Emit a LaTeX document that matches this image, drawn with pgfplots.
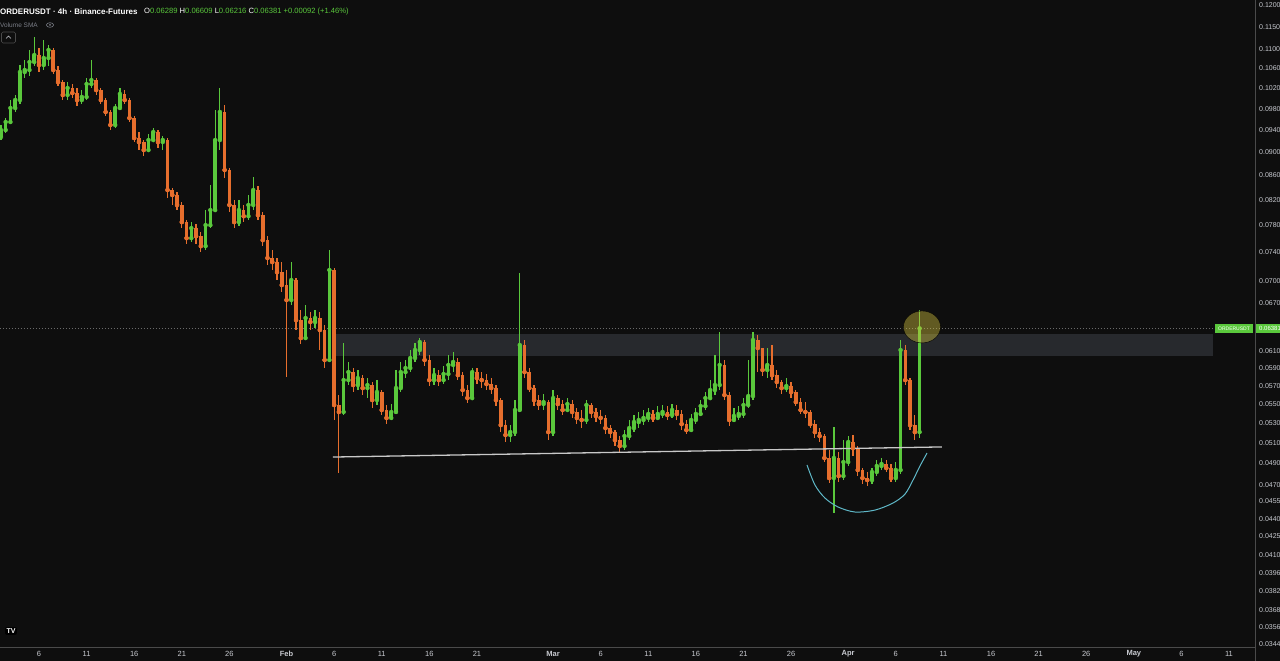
\documentclass[border=0pt]{standalone}
\usepackage{fontspec}
\setmainfont{Liberation Sans}
\usepackage{pgfplots}
\pgfplotsset{compat=1.18}
\usepackage{pgfplotstable}
\definecolor{bg}{HTML}{0E0E0E}
\definecolor{upc}{HTML}{5AC83C}
\definecolor{dnc}{HTML}{E66E2D}
\definecolor{zonec}{HTML}{27292D}
\definecolor{axc}{HTML}{4A4A4A}
\definecolor{txtc}{HTML}{C8CAD0}
\definecolor{linec}{HTML}{C8C8C8}
\definecolor{cupc}{HTML}{5FB8C8}
\definecolor{hlc}{HTML}{D4C440}
\definecolor{dotc}{HTML}{6A6A6A}
\definecolor{graytxt}{HTML}{7A7D86}

\pgfplotstableread{
t o h l c
2.0 0.09273 0.09493 0.09218 0.09400
2.5 0.09400 0.09623 0.09345 0.09549
3.0 0.09549 0.09968 0.09512 0.09813
3.5 0.09813 0.10066 0.09737 0.09968
4.0 0.09968 0.10673 0.09890 0.10528
4.5 0.10528 0.10778 0.10406 0.10569
5.0 0.10569 0.10991 0.10447 0.10735
5.5 0.10735 0.11273 0.10652 0.10884
6.0 0.10884 0.11034 0.10528 0.10673
6.5 0.10673 0.11208 0.10569 0.10820
7.0 0.10820 0.11099 0.10652 0.10991
7.5 0.10991 0.11034 0.10487 0.10569
8.0 0.10569 0.10652 0.10244 0.10324
8.5 0.10324 0.10364 0.09968 0.10066
9.0 0.10066 0.10324 0.09968 0.10204
9.5 0.10204 0.10284 0.10007 0.10105
10.0 0.10105 0.10204 0.09852 0.09968
10.5 0.09968 0.10165 0.09890 0.10027
11.0 0.10027 0.10406 0.09968 0.10284
11.5 0.10284 0.10778 0.10204 0.10364
12.0 0.10364 0.10406 0.10066 0.10165
12.5 0.10165 0.10204 0.09890 0.09968
13.0 0.09968 0.10007 0.09661 0.09737
13.5 0.09737 0.09775 0.09400 0.09493
14.0 0.09493 0.09890 0.09438 0.09813
14.5 0.09813 0.10204 0.09775 0.10086
15.0 0.10086 0.10165 0.09890 0.09968
15.5 0.09968 0.10007 0.09549 0.09623
16.0 0.09623 0.09661 0.09182 0.09254
16.5 0.09254 0.09364 0.09040 0.09182
17.0 0.09182 0.09218 0.08935 0.09040
17.5 0.09040 0.09327 0.09005 0.09218
18.0 0.09218 0.09438 0.09182 0.09364
18.5 0.09364 0.09400 0.09076 0.09182
19.0 0.09182 0.09291 0.09040 0.09218
19.5 0.09218 0.09254 0.08231 0.08361
20.0 0.08361 0.08394 0.08120 0.08280
20.5 0.08280 0.08329 0.08040 0.08120
21.0 0.08120 0.08168 0.07762 0.07854
21.5 0.07854 0.07885 0.07524 0.07612
22.0 0.07612 0.07854 0.07553 0.07762
22.5 0.07762 0.07823 0.07524 0.07642
23.0 0.07642 0.07702 0.07407 0.07494
23.5 0.07494 0.08040 0.07436 0.07808
24.0 0.07808 0.08443 0.07762 0.08040
24.5 0.08040 0.09775 0.08009 0.09218
25.0 0.09218 0.10204 0.09040 0.09737
25.5 0.09737 0.09871 0.08560 0.08694
26.0 0.08694 0.08728 0.08009 0.08120
26.5 0.08120 0.08199 0.07762 0.07854
27.0 0.07854 0.08199 0.07793 0.08040
27.5 0.08040 0.08120 0.07854 0.07946
28.0 0.07946 0.08280 0.07885 0.08120
28.5 0.08120 0.08576 0.08040 0.08361
29.0 0.08361 0.08427 0.07885 0.07962
29.5 0.07962 0.08009 0.07494 0.07582
30.0 0.07582 0.07642 0.07222 0.07321
30.5 0.07321 0.07436 0.07152 0.07264
31.0 0.07264 0.07321 0.07013 0.07123
31.5 0.07123 0.07264 0.06851 0.06945
32.0 0.06945 0.07152 0.05802 0.06745
32.5 0.06745 0.07264 0.06679 0.07013
33.0 0.07013 0.07041 0.06361 0.06486
33.5 0.06486 0.06614 0.06189 0.06262
34.0 0.06262 0.06679 0.06238 0.06512
34.5 0.06512 0.06588 0.06361 0.06461
35.0 0.06461 0.06614 0.06386 0.06512
35.5 0.06512 0.06588 0.06117 0.06361
36.0 0.06361 0.06423 0.05906 0.05999
36.5 0.05999 0.07436 0.05976 0.07152
37.0 0.07152 0.07180 0.05336 0.05494
37.5 0.05494 0.05602 0.04811 0.05420
38.0 0.05420 0.06201 0.05388 0.05768
38.5 0.05768 0.05976 0.05713 0.05859
39.0 0.05859 0.05906 0.05635 0.05713
39.5 0.05713 0.05883 0.05657 0.05791
40.0 0.05791 0.05825 0.05602 0.05679
40.5 0.05679 0.05791 0.05569 0.05713
41.0 0.05713 0.05747 0.05462 0.05548
41.5 0.05548 0.05768 0.05494 0.05635
42.0 0.05635 0.05657 0.05388 0.05441
42.5 0.05441 0.05494 0.05293 0.05357
43.0 0.05357 0.05505 0.05336 0.05420
43.5 0.05420 0.05883 0.05399 0.05679
44.0 0.05679 0.05976 0.05635 0.05859
44.5 0.05859 0.05999 0.05791 0.05906
45.0 0.05906 0.06117 0.05859 0.06023
45.5 0.06023 0.06201 0.05976 0.06117
46.0 0.06117 0.06262 0.06058 0.06213
46.5 0.06213 0.06238 0.05929 0.05999
47.0 0.05999 0.06058 0.05701 0.05768
47.5 0.05768 0.05906 0.05713 0.05825
48.0 0.05825 0.05883 0.05701 0.05768
48.5 0.05768 0.05929 0.05724 0.05837
49.0 0.05837 0.06058 0.05768 0.05941
49.5 0.05941 0.06093 0.05859 0.05976
50.0 0.05976 0.06023 0.05768 0.05825
50.5 0.05825 0.05859 0.05591 0.05657
51.0 0.05657 0.05713 0.05516 0.05569
51.5 0.05569 0.05906 0.05548 0.05859
52.0 0.05859 0.05906 0.05724 0.05791
52.5 0.05791 0.05859 0.05679 0.05768
53.0 0.05768 0.05837 0.05657 0.05724
53.5 0.05724 0.05791 0.05613 0.05679
54.0 0.05679 0.05713 0.05483 0.05548
54.5 0.05548 0.05569 0.05211 0.05283
55.0 0.05283 0.05336 0.05111 0.05181
55.5 0.05181 0.05283 0.05111 0.05211
56.0 0.05211 0.05548 0.05171 0.05441
56.5 0.05441 0.07110 0.05420 0.06177
57.0 0.06177 0.06238 0.05791 0.05859
57.5 0.05859 0.05906 0.05635 0.05679
58.0 0.05679 0.05713 0.05483 0.05548
58.5 0.05548 0.05602 0.05441 0.05505
59.0 0.05505 0.05613 0.05441 0.05526
59.5 0.05526 0.05548 0.05131 0.05211
60.0 0.05211 0.05657 0.05171 0.05569
60.5 0.05569 0.05602 0.05441 0.05505
61.0 0.05505 0.05548 0.05388 0.05441
61.5 0.05441 0.05569 0.05420 0.05505
62.0 0.05505 0.05548 0.05357 0.05420
62.5 0.05420 0.05462 0.05293 0.05357
63.0 0.05357 0.05441 0.05252 0.05336
63.5 0.05336 0.05548 0.05293 0.05494
64.0 0.05494 0.05516 0.05357 0.05420
64.5 0.05420 0.05462 0.05314 0.05378
65.0 0.05378 0.05441 0.05293 0.05357
65.5 0.05357 0.05388 0.05191 0.05252
66.0 0.05252 0.05283 0.05151 0.05211
66.5 0.05211 0.05232 0.05071 0.05131
67.0 0.05131 0.05171 0.05002 0.05071
67.5 0.05071 0.05232 0.05032 0.05171
68.0 0.05171 0.05336 0.05131 0.05252
68.5 0.05252 0.05388 0.05211 0.05314
69.0 0.05314 0.05420 0.05252 0.05336
69.5 0.05336 0.05441 0.05283 0.05357
70.0 0.05357 0.05462 0.05314 0.05399
70.5 0.05399 0.05441 0.05314 0.05357
71.0 0.05357 0.05483 0.05336 0.05399
71.5 0.05399 0.05494 0.05357 0.05420
72.0 0.05420 0.05483 0.05336 0.05388
72.5 0.05388 0.05505 0.05357 0.05441
73.0 0.05441 0.05494 0.05336 0.05399
73.5 0.05399 0.05441 0.05232 0.05293
74.0 0.05293 0.05336 0.05191 0.05232
74.5 0.05232 0.05399 0.05211 0.05336
75.0 0.05336 0.05462 0.05293 0.05399
75.5 0.05399 0.05548 0.05378 0.05483
76.0 0.05483 0.05635 0.05441 0.05569
76.5 0.05569 0.05768 0.05548 0.05657
77.0 0.05657 0.06058 0.05602 0.05713
77.5 0.05713 0.06336 0.05657 0.05941
78.0 0.05941 0.05999 0.05548 0.05602
78.5 0.05602 0.05635 0.05273 0.05336
79.0 0.05336 0.05462 0.05314 0.05378
79.5 0.05378 0.05483 0.05336 0.05399
80.0 0.05399 0.05569 0.05357 0.05494
80.5 0.05494 0.05999 0.05462 0.05591
81.0 0.05591 0.06336 0.05548 0.06238
81.5 0.06238 0.06299 0.05859 0.06141
82.0 0.06141 0.06141 0.05814 0.05883
82.5 0.05883 0.06141 0.05791 0.05941
83.0 0.05941 0.06177 0.05768 0.05825
83.5 0.05825 0.05883 0.05679 0.05747
84.0 0.05747 0.05768 0.05613 0.05679
84.5 0.05679 0.05791 0.05635 0.05701
85.0 0.05701 0.05747 0.05569 0.05635
85.5 0.05635 0.05657 0.05483 0.05526
86.0 0.05526 0.05569 0.05399 0.05441
86.5 0.05441 0.05526 0.05357 0.05420
87.0 0.05420 0.05441 0.05252 0.05293
87.5 0.05293 0.05336 0.05151 0.05211
88.0 0.05211 0.05252 0.05111 0.05171
88.5 0.05171 0.05191 0.04915 0.04954
89.0 0.04954 0.05032 0.04717 0.04764
89.5 0.04764 0.05262 0.04449 0.04954
90.0 0.04954 0.05012 0.04727 0.04783
90.5 0.04783 0.05131 0.04745 0.04915
91.0 0.04915 0.05171 0.04877 0.05111
91.5 0.05111 0.05181 0.04973 0.05052
92.0 0.05052 0.05071 0.04783 0.04839
92.5 0.04839 0.04858 0.04708 0.04764
93.0 0.04764 0.04820 0.04690 0.04745
93.5 0.04745 0.04858 0.04708 0.04820
94.0 0.04820 0.04934 0.04783 0.04877
94.5 0.04877 0.04954 0.04839 0.04896
95.0 0.04896 0.04934 0.04820 0.04858
95.5 0.04858 0.04896 0.04727 0.04764
96.0 0.04764 0.04915 0.04727 0.04839
96.5 0.04839 0.06238 0.04801 0.06117
97.0 0.06117 0.06177 0.05713 0.05768
97.5 0.05768 0.05791 0.05232 0.05283
98.0 0.05283 0.05388 0.05131 0.05211
98.5 0.05211 0.06609 0.05151 0.06381
}\candles

\pgfplotstableread{
t p
86.67 0.04887
87.51 0.04699
88.56 0.04581
89.93 0.04502
91.71 0.04458
93.82 0.04475
95.71 0.04537
96.97 0.04617
97.81 0.04745
98.54 0.04877
99.28 0.05002
}\cup

\begin{document}
\begin{tikzpicture}
\fill[bg] (0pt,-14pt) rectangle (1280pt,647pt);
\begin{axis}[
  at={(0pt,0pt)}, anchor=south west,
  scale only axis, width=1255pt, height=647pt,
  xmin=1.9034, xmax=133.73, ymin=-3.37417, ymax=-2.11049,
  axis line style={draw=none}, major tick length=0pt, tick style={draw=none},
  yticklabel pos=right,
  ytick={-3.36825,-3.33541,-3.30226,-3.26492,-3.22893,-3.19418,-3.15825,-3.12357,-3.09004,-3.05761,-3.01593,-2.97593,-2.93746,-2.90042,-2.86470,-2.83022,-2.79688,-2.70306,-2.65926,-2.60369,-2.55105,-2.50104,-2.45341,-2.40795,-2.36446,-2.32279,-2.28278,-2.24431,-2.20727,-2.16282,-2.12026},
  yticklabels={0.03445,0.03560,0.03680,0.03820,0.03960,0.04100,0.04250,0.04400,0.04550,0.04700,0.04900,0.05100,0.05300,0.05500,0.05700,0.05900,0.06100,0.06700,0.07000,0.07400,0.07800,0.08200,0.08600,0.09000,0.09400,0.09800,0.10200,0.10600,0.11000,0.11500,0.12000},
  xtick={6,11,16,21,26,32,37,42,47,52,60,65,70,75,80,85,91,96,101,106,111,116,121,126,131},
  xticklabels={6,11,16,21,26,\textbf{Feb},6,11,16,21,\textbf{Mar},6,11,16,21,26,\textbf{Apr},6,11,16,21,26,\textbf{May},6,11},
  xticklabel style={anchor=center, yshift=-7pt, text=txtc, font=\fontsize{7.5}{9}\selectfont},
  yticklabel style={anchor=west, inner sep=0pt, xshift=4pt, text=txtc, font=\fontsize{7}{8}\selectfont},
]
% resistance zone
\addplot[fill=zonec, draw=none, forget plot] table[row sep=\\, x=t, y expr=ln(\thisrow{p})] {t p\\ 36.88 0.06046\\ 129.32 0.06046\\ 129.32 0.06312\\ 36.88 0.06312\\};
% current price dotted line
\addplot[dotc, line width=0.8pt, dash pattern=on 1pt off 2pt, forget plot] table[row sep=\\, x=t, y expr=ln(\thisrow{p})] {t p\\ 1.9 0.06381\\ 129.32 0.06381\\};
% up candles: wicks and bodies
\addplot[color=upc, only marks, mark=none, forget plot, restrict expr to domain={\thisrow{c}-\thisrow{o}}{0:1},
  error bars/.cd, y dir=both, y explicit, error mark=none, error bar style={line width=1.2pt, draw=upc, color=upc}]
  table[x=t, y expr=ln(\thisrow{c}), y error plus expr=ln(\thisrow{h})-ln(\thisrow{c}), y error minus expr=ln(\thisrow{c})-ln(\thisrow{l})] {\candles};
\addplot[color=upc, only marks, mark=none, forget plot, restrict expr to domain={\thisrow{c}-\thisrow{o}}{0:1},
  error bars/.cd, y dir=plus, y explicit, error mark=none, error bar style={line width=3.6pt, draw=upc, color=upc}]
  table[x=t, y expr=ln(\thisrow{o}), y error plus expr=ln(\thisrow{c})-ln(\thisrow{o})] {\candles};
% down candles: wicks and bodies
\addplot[color=dnc, only marks, mark=none, forget plot, restrict expr to domain={\thisrow{c}-\thisrow{o}}{-1:0},
  error bars/.cd, y dir=both, y explicit, error mark=none, error bar style={line width=1.2pt, draw=dnc, color=dnc}]
  table[x=t, y expr=ln(\thisrow{c}), y error plus expr=ln(\thisrow{h})-ln(\thisrow{c}), y error minus expr=ln(\thisrow{c})-ln(\thisrow{l})] {\candles};
\addplot[color=dnc, only marks, mark=none, forget plot, restrict expr to domain={\thisrow{c}-\thisrow{o}}{-1:0},
  error bars/.cd, y dir=plus, y explicit, error mark=none, error bar style={line width=3.6pt, draw=dnc, color=dnc}]
  table[x=t, y expr=ln(\thisrow{c}), y error plus expr=ln(\thisrow{o})-ln(\thisrow{c})] {\candles};
% support line
\addplot[linec, line width=1.3pt, forget plot] table[row sep=\\, x=t, y expr=ln(\thisrow{p})] {t p\\ 36.88 0.04963\\ 100.85 0.05062\\};
% cup arc
\addplot[cupc, line width=1pt, smooth, forget plot] table[x=t, y expr=ln(\thisrow{p})] {\cup};
% highlight ellipse
\addplot[only marks, mark=*, mark size=16pt, forget plot, mark options={xscale=1.16, fill=hlc, draw=none, fill opacity=0.42}] table[row sep=\\, x=t, y expr=ln(\thisrow{p})] {t p\\ 98.75 0.06399\\};
\end{axis}
% axis lines
\draw[axc, line width=0.8pt] (1255pt,-14pt) -- (1255pt,647pt);
\draw[axc, line width=0.8pt] (0pt,0pt) -- (1255pt,0pt);
% price tags
\fill[upc] (1215pt,314pt) rectangle (1253pt,323pt);
\node[text=white, inner sep=0pt, font=\fontsize{5}{6}\selectfont] at (1234pt,318.5pt) {ORDERUSDT};
\fill[upc] (1255.5pt,314pt) rectangle (1282pt,323pt);
\node[anchor=west, text=white, inner sep=0pt, font=\fontsize{6}{7}\selectfont] at (1259pt,318.5pt) {0.06381};
% header
\node[anchor=west, inner sep=0pt, text=white, font=\bfseries\fontsize{8}{9.6}\selectfont] at (0pt,635pt) {ORDERUSDT · 4h · Binance-Futures};
\node[anchor=west, inner sep=0pt, font=\fontsize{7.6}{9}\selectfont] at (144pt,635pt) {\textcolor{white}{O}\textcolor{upc}{0.06289} \textcolor{white}{H}\textcolor{upc}{0.06609} \textcolor{white}{L}\textcolor{upc}{0.06216} \textcolor{white}{C}\textcolor{upc}{0.06381} \textcolor{upc}{+0.00092 (+1.46\%)}};
\node[anchor=west, inner sep=0pt, text=graytxt, font=\fontsize{6.5}{8}\selectfont] at (0pt,622pt) {Volume SMA};
\draw[graytxt, line width=0.6pt] (50pt,622pt) ellipse (3.6pt and 2.3pt);
\fill[graytxt] (50pt,622pt) circle (1pt);
\draw[axc, rounded corners=1.5pt, line width=0.6pt] (1.5pt,604pt) rectangle (15.5pt,615pt);
\draw[txtc, line width=0.6pt] (6pt,608.5pt) -- (8.5pt,611pt) -- (11pt,608.5pt);
% logo
\node[fill=black, rounded corners=2pt, text=white, inner sep=1.5pt, font=\bfseries\fontsize{7}{8}\selectfont] at (11pt,16pt) {TV};
\pgfresetboundingbox
\useasboundingbox (0pt,-14pt) rectangle (1280pt,647pt);
\end{tikzpicture}
\end{document}
